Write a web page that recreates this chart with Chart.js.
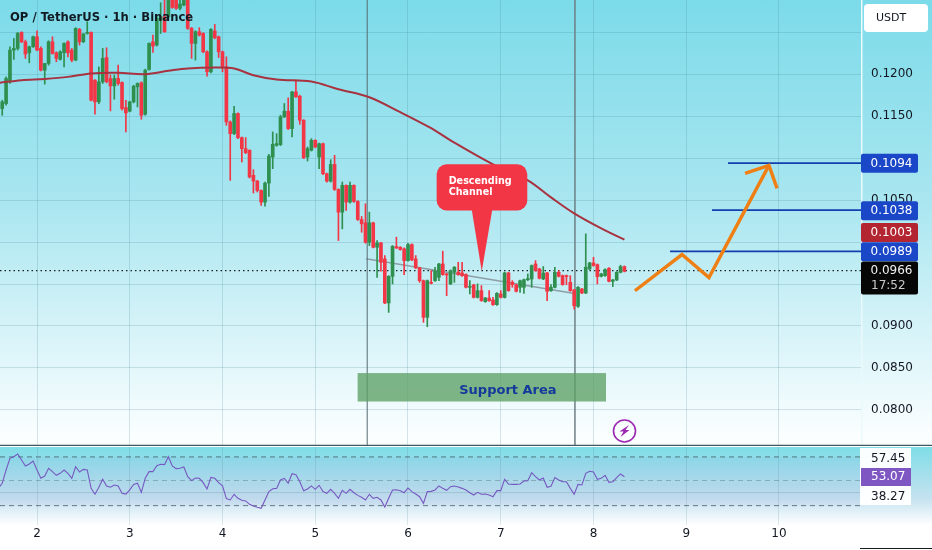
<!DOCTYPE html>
<html><head><meta charset="utf-8">
<script src="https://cdn.jsdelivr.net/npm/chart.js@4"></script>
<style>
html,body{margin:0;padding:0;width:932px;height:550px;background:#fff;overflow:hidden}
#p1{position:absolute;left:0;top:0;width:932px;height:446px;background:linear-gradient(#7cdbe9,#a9e6f0 45%,#fbfeff 98%)}
#p2{position:absolute;left:0;top:447px;width:932px;height:103px;background:linear-gradient(#7fdde7 0,#c5e2f0 50%,#ffffff 76%,#fff 100%)}
canvas{display:block}
</style></head><body>
<div id="p1"><canvas id="main" width="932" height="446"></canvas></div>
<div id="p2"><canvas id="rsi" width="932" height="103"></canvas></div>
<script>
const FONT='"DejaVu Sans"';
const title='OP / TetherUS · 1h · Binance';
const firstHour=-9;
const xTicks=[2,3,4,5,6,7,8,9,10];
const hiddenPriceLabels=['0.1250','0.1100','0.1000','0.0950'];
const opens=[.1159,.1165,.11909,.12287,.12307,.12498,.12386,.12255,.12327,.12446,.12307,.12048,.12128,.12386,.12255,.12176,.12255,.12386,.12287,.12168,.12534,.12386,.12486,.12498,.11929,.1167,.11909,.12199,.11949,.11861,.11949,.11901,.11602,.11559,.1167,.11849,.11897,.11523,.12056,.12386,.12347,.12645,.12685,.12685,.12924,.12904,.12785,.12824,.12944,.12546,.12367,.12506,.12486,.12267,.12028,.12514,.12446,.12267,.12088,.11431,.11292,.11531,.11244,.11113,.11093,.10795,.10727,.10615,.10476,.10703,.11013,.11153,.11161,.11491,.11559,.11352,.11789,.11738,.11451,.11013,
.11093,.11212,.11013,.11172,.10814,.10726,.10925,.10627,.10356,.10675,.10476,.10675,.10484,.10269,.10229,.09998,.10229,.09938,.0999,.09799,.09274,.09592,.09946,.09938,.09919,.09779,.0997,.09799,.09692,.0954,.09103,.0952,.0954,.0958,.09739,.0962,.09501,.0964,.0964,.09632,.09612,.09461,.09489,.09341,.09421,.0929,.09333,.0931,.09254,.09381,.09341,.09632,.0952,.09489,.09461,.09461,.09552,.0956,.09739,.0968,.0956,.09632,.09421,.09461,.0964,.096,.096,.0952,.09429,.09234,.09441,.09393,.0968,.09751,.09731,.09592,.096,.09688,.09532,.09548,.0964,.09708];
const closes=[.1167,.11949,.12287,.12307,.12486,.12386,.12239,.12327,.12446,.12287,.12048,.12128,.12386,.12247,.12188,.12267,.12367,.12255,.12168,.12546,.12386,.12478,.12498,.1169,.1167,.11909,.12188,.11909,.11861,.11949,.11889,.1159,.11539,.1167,.11857,.11889,.11511,.12048,.12367,.12335,.12665,.12685,.12506,.12924,.12796,.12785,.12836,.12944,.12546,.12367,.12506,.12466,.12267,.12028,.12534,.12434,.12267,.12088,.11431,.11292,.11531,.11244,.11113,.11065,.10775,.10727,.10615,.10476,.10703,.11025,.11165,.11173,.11491,.11559,.11352,.11789,.1173,.11451,.11005,.11113,
.11212,.11132,.11172,.10814,.10726,.10925,.10627,.10356,.10675,.10476,.10675,.10484,.10269,.10217,.09998,.10229,.09938,.0999,.09759,.09274,.09592,.0995,.0993,.09911,.09779,.0997,.09787,.09692,.0954,.09103,.0954,.09509,.09652,.09739,.09612,.09608,.0966,.097,.09612,.096,.09461,.09473,.09341,.09421,.09302,.09333,.09302,.09254,.09389,.09341,.09632,.09421,.09493,.09413,.0954,.09552,.09564,.0972,.0966,.09568,.09632,.09413,.09461,.0964,.09592,.09493,.09588,.09421,.09242,.09461,.09393,.097,.09751,.0972,.09588,.0962,.09672,.09532,.09548,.0964,.09708,.09652];
const highs=[.1169,.11969,.12327,.12426,.12498,.12506,.12406,.12335,.12454,.12518,.12327,.12128,.12398,.12446,.12267,.12279,.12375,.12398,.12307,.12554,.12546,.12486,.12625,.12506,.11937,.12088,.12307,.12315,.11989,.11989,.12108,.11909,.1169,.11678,.11869,.11897,.11909,.1206,.12375,.12466,.12705,.12852,.12904,.12964,.12964,.12944,.12904,.12984,.12984,.12558,.12518,.12554,.12494,.12279,.12542,.12593,.12454,.12275,.12207,.11443,.11618,.11539,.11252,.11244,.11101,.10862,.10735,.10623,.10715,.11045,.11312,.11292,.11511,.1165,.11718,.11797,.11929,.1175,.11459,.11133,
.11232,.1122,.1118,.1118,.10822,.10981,.11033,.10635,.10715,.10683,.10715,.10683,.10492,.10305,.10456,.10356,.10237,.10018,.09998,.09839,.096,.09958,.10058,.09946,.0993,.09986,.09978,.09839,.097,.09548,.09548,.0966,.097,.09747,.09891,.09628,.09668,.09708,.09759,.09759,.0962,.0954,.09497,.09501,.09481,.09341,.09421,.09341,.09397,.09421,.0964,.0964,.0954,.09497,.09548,.0956,.0962,.09727,.09779,.09688,.09708,.0964,.09493,.097,.0966,.09608,.09608,.096,.09437,.09469,.09449,.10098,.09759,.09819,.09739,.09628,.0968,.09696,.09556,.09648,.09724,.09716];
const lows=[.11511,.1163,.11889,.12176,.12287,.12375,.12188,.12136,.12319,.12279,.1204,.11881,.12108,.12239,.12148,.12168,.12088,.12207,.12148,.1216,.12347,.12375,.12478,.11682,.11523,.1165,.11889,.11897,.11563,.11702,.11869,.11571,.11312,.11551,.11658,.1161,.11463,.11511,.12048,.12259,.12335,.12486,.12498,.12677,.12785,.12773,.12765,.12812,.12534,.12188,.12168,.12454,.12255,.11977,.12016,.12422,.12199,.12028,.11391,.10735,.1128,.11232,.10954,.11053,.10763,.10584,.10596,.10436,.10428,.10544,.10874,.11141,.11149,.11483,.1134,.11252,.11722,.11403,.10994,.10966,
.11085,.11124,.10874,.10802,.10714,.10714,.10615,.10018,.10157,.10376,.10464,.10472,.10257,.10117,.09986,.09958,.0993,.0958,.09652,.09266,.09162,.09501,.09922,.09903,.09612,.09771,.09779,.09684,.0952,.09043,.08991,.09501,.09532,.0954,.09604,.09361,.09493,.0952,.09604,.09592,.09453,.09381,.09333,.09333,.09294,.09282,.09294,.09246,.09246,.09333,.09333,.09413,.09461,.09405,.09401,.09389,.0954,.09461,.09652,.0956,.09552,.09302,.09413,.09453,.09584,.09485,.09493,.09413,.09202,.09222,.09385,.09385,.09672,.09712,.09501,.09584,.09592,.09524,.09469,.0954,.09632,.09644];
const maHours=[-10,-4,2,8,14,21,28,34,39,46,51,56,62,71,78,86,94,102,107,118,127,133,139,146,152];
const maValues=[.11897,.11929,.11944,.11968,.12009,.12016,.12,.1204,.12069,.1208,.12069,.11988,.11937,.11913,.11821,.11726,.11547,.11356,.11212,.10926,.10735,.10532,.10341,.10162,.1003];
const rsiFirstHour=-10;
const rsiValues=[43.5,47.7,58.7,68.3,69.7,71.9,66.9,62.0,63.6,66.1,58.7,51.8,53.7,60.1,57.3,54.3,55.9,58.7,55.9,51.8,61.4,57.0,59.2,58.7,43.5,38.6,44.4,51.0,45.5,44.4,46.3,45.5,39.4,38.8,42.2,46.8,47.7,40.2,51.8,57.3,57.3,62.3,63.4,63.1,69.7,62.0,59.8,60.1,61.2,53.2,49.9,52.1,51.8,48.2,43.0,52.6,51.8,48.2,45.5,35.0,33.9,38.6,35.3,33.6,33.1,30.3,28.9,27.8,27.0,33.9,40.8,43.2,43.5,50.4,51.8,47.7,55.6,54.8,49.0,41.6,43.0,45.5,42.7,46.0,40.8,39.4,42.7,39.4,35.3,41.9,39.4,42.7,39.9,37.7,36.1,33.9,38.6,35.3,36.1,33.9,28.1,35.3,42.2,42.4,41.6,39.9,43.8,40.8,38.8,36.6,31.1,40.8,41.0,42.2,45.5,43.5,41.9,44.9,45.5,44.6,43.5,42.2,39.9,38.0,40.2,38.6,38.8,38.0,36.6,41.6,41.6,51.0,47.1,46.8,46.8,47.1,49.6,49.9,56.5,53.2,50.4,52.1,44.4,45.2,52.4,50.4,49.0,49.0,43.5,38.6,46.8,46.3,55.9,57.6,57.0,51.0,51.8,54.3,48.5,49.0,52.4,55.4,53.07];
const rsiBands=[69.5,50,29.2];
const rsiGrid=[40];
const rsiTags=['57.45','53.07','38.27'];
const lastPrice=0.0966, countdown='17:52', maLast=0.1003;
const targets=[0.1094,0.1038,0.0989];
const targetStarts=[9.45,9.278,8.825];
const arrowDays=[8.447,8.954,9.245,9.892];
const arrowPrices=[.0942,.09851,.09577,.10914];
const headDays=[9.634,9.892,9.979];
const headPrices=[.10818,.10914,.10639];
const trendDays=[5.547,7.779];
const trendPrices=[.098,.09389];
const sessionDays=[5.56,7.8];
const supportDays=[5.457,8.135];
const supportPrices=[.08439,.081];
const calloutDays=[6.309,7.286,6.687,6.909,6.795];
const calloutPrices=[.10926,.10377,.09652];
const Y_MIN=0.0757,Y_MAX=0.12884,X_MIN=1.601,X_MAX=10.895;

const day=h=>2+h/24;
const GREEN='#2f8f4e',RED='#f23645';
const bodyColors=opens.map((o,i)=>closes[i]>=o?GREEN:RED);
const seg=(xs,ys,extra)=>Object.assign({type:'line',data:xs.map((x,i)=>({x,y:ys[i]})),pointRadius:0,tension:0,fill:false},extra);
const fitW=s=>{s.width=70;s.paddingTop=0;s.paddingBottom=0;s.paddingLeft=0;s.paddingRight=0};
const fitH=h=>s=>{s.height=h;s.paddingTop=0;s.paddingBottom=0;s.paddingLeft=0;s.paddingRight=0};
const gridColor='rgba(60,125,145,.2)';

function rr(c,x,y,w,h,r){c.beginPath();c.roundRect(x,y,w,h,r);}
const overlay={id:'overlay',afterDatasetsDraw(ch){
  const c=ch.ctx,X=ch.scales.x,Y=ch.scales.y,px=v=>X.getPixelForValue(v),py=v=>Y.getPixelForValue(v);
  c.save();
  // support area
  const sx=px(supportDays[0]),sw=px(supportDays[1])-sx,sy=py(supportPrices[0]),sh=py(supportPrices[1])-sy;
  c.fillStyle='rgba(92,160,100,.78)';c.fillRect(sx,sy,sw,sh);
  c.font='600 13px '+FONT;c.fillStyle='#14399c';c.textBaseline='middle';c.textAlign='center';
  c.fillText('Support Area',sx+sw*0.605,sy+sh*0.62);
  // callout
  const a=px(calloutDays[0]),b=px(calloutDays[1]),t=py(calloutPrices[0]),u=py(calloutPrices[1]);
  c.fillStyle='#f23645';rr(c,a,t,b-a,u-t,10);c.fill();
  c.beginPath();c.moveTo(px(calloutDays[2]),u-1);c.lineTo(px(calloutDays[3]),u-1);c.lineTo(px(calloutDays[4]),py(calloutPrices[2]));c.closePath();c.fill();
  c.fillStyle='#fff';c.font='600 9.6px '+FONT;c.textAlign='left';
  c.fillText('Descending',a+12,t+17.5);c.fillText('Channel',a+12,t+28.5);
  // title
  c.fillStyle='#111a22';c.font='600 11.6px '+FONT;c.textAlign='left';c.fillText(title,10,18);
  // USDT
  c.fillStyle='#fff';rr(c,864,4,64,28,4);c.fill();
  c.fillStyle='#131722';c.font='11px '+FONT;c.textAlign='center';c.fillText('USDT',891,18.5);
  // price tags
  const tag=(v,col,shift)=>{const yy=py(v)+shift;c.fillStyle=col;rr(c,861,yy-9.5,57,19,2);c.fill();
    c.fillStyle='#fff';c.font='12px '+FONT;c.textAlign='left';c.fillText(v.toFixed(4),870.5,yy+0.5);};
  tag(maLast,'#b32530',-7);tag(targets[0],'#1a47c7',0);tag(targets[1],'#1a47c7',0.5);tag(targets[2],'#1a47c7',0.5);
  const ly=py(lastPrice);
  c.fillStyle='#060606';rr(c,861,ly-9,57,33,2);c.fill();
  c.fillStyle='#f2f2f2';c.font='12px '+FONT;c.textAlign='left';c.fillText(lastPrice.toFixed(4),870.5,ly+0.5);
  c.fillStyle='#c9c9c9';c.fillText(countdown,871,ly+15.5);
  // lightning icon
  c.strokeStyle='#9c27b0';c.lineWidth=1.6;c.beginPath();c.arc(624.5,431,11,0,Math.PI*2);c.stroke();
  c.fillStyle='#9c27b0';c.beginPath();c.moveTo(629,425);c.lineTo(619.5,431.5);c.lineTo(623.5,431.5);c.lineTo(620.5,437);c.lineTo(629.5,430);c.lineTo(625.5,430);c.closePath();c.fill();
  // separator
  c.strokeStyle='#3d5a5e';c.lineWidth=1.5;c.beginPath();c.moveTo(0,445.5);c.lineTo(932,445.5);c.stroke();
  c.restore();
}};

const hours=opens.map((_,i)=>firstHour+i);
new Chart(document.getElementById('main'),{type:'bar',plugins:[overlay],data:{datasets:[
  seg([X_MIN,X_MAX],[lastPrice,lastPrice],{borderColor:'#1a2228',borderWidth:1.2,borderDash:[1.5,3],order:9}),
  seg(trendDays,trendPrices,{borderColor:'#8d9ea5',borderWidth:1.5,order:8}),
  seg([sessionDays[0],sessionDays[0]],[Y_MIN,Y_MAX],{borderColor:'#566a70',borderWidth:1,order:7}),
  seg([sessionDays[1],sessionDays[1]],[Y_MIN,Y_MAX],{borderColor:'#6e7f85',borderWidth:1.5,order:7}),
  {type:'bar',data:hours.map((h,i)=>({x:day(h),y:[lows[i],highs[i]]})),backgroundColor:bodyColors,barThickness:1,grouped:false,order:6},
  {type:'bar',data:hours.map((h,i)=>({x:day(h),y:[opens[i],closes[i]]})),backgroundColor:bodyColors,barThickness:3,grouped:false,order:5},
  seg(maHours.map(day),maValues,{borderColor:'#a8323f',borderWidth:2,tension:.35,order:4}),
  ...targets.map((v,i)=>seg([targetStarts[i],X_MAX],[v,v],{borderColor:'#123fae',borderWidth:1.8,order:3})),
  seg(arrowDays,arrowPrices,{borderColor:'#f07f13',borderWidth:3.4,order:2}),
  seg(headDays,headPrices,{borderColor:'#f07f13',borderWidth:3.4,order:2})
]},options:{responsive:false,animation:false,devicePixelRatio:1,layout:{padding:0,autoPadding:false},
  plugins:{legend:{display:false},tooltip:{enabled:false}},
  scales:{
    x:{type:'linear',offset:false,min:X_MIN,max:X_MAX,grid:{offset:false,color:gridColor,drawTicks:false},border:{display:false},
       afterBuildTicks(s){s.ticks=xTicks.map(value=>({value}))},ticks:{display:false},afterFit:fitH(0)},
    y:{position:'right',min:Y_MIN,max:Y_MAX,afterFit:fitW,grid:{color:gridColor,drawTicks:false},border:{display:true,color:'#eaf9fb',width:1.5},
       ticks:{stepSize:.005,includeBounds:false,padding:9,align:'center',crossAlign:'near',color:'#131722',font:{family:FONT,size:12},
         callback:v=>hiddenPriceLabels.includes(v.toFixed(4))?'':v.toFixed(4)}}
  }}});

const rsiOverlay={id:'rsiOverlay',beforeDatasetsDraw(ch){
  const c=ch.ctx,X=ch.scales.x,Y=ch.scales.y,a=ch.chartArea;
  c.save();c.fillStyle='rgba(126,87,194,.05)';
  c.fillRect(a.left,Y.getPixelForValue(rsiBands[0]),a.right-a.left,Y.getPixelForValue(rsiBands[2])-Y.getPixelForValue(rsiBands[0]));
  c.restore();
},afterDatasetsDraw(ch){
  const c=ch.ctx;c.save();
  c.fillStyle='rgba(255,255,255,.96)';c.fillRect(860,1,51,57);
  c.fillStyle='#7e57c2';c.fillRect(861,21,50,18);
  c.textBaseline='middle';c.textAlign='left';c.font='12px '+FONT;
  c.fillStyle='#131722';c.fillText(rsiTags[0],871,12);c.fillText(rsiTags[2],871,49.5);
  c.fillStyle='#fff';c.fillText(rsiTags[1],871,30);
  c.strokeStyle='#1a1a1a';c.lineWidth=1;c.beginPath();c.moveTo(860,101.5);c.lineTo(932,101.5);c.stroke();
  c.restore();
}};
new Chart(document.getElementById('rsi'),{type:'line',plugins:[rsiOverlay],data:{datasets:[
  ...rsiBands.map((v,i)=>seg([X_MIN,X_MAX],[v,v],{borderColor:i==1?'rgba(90,115,125,.45)':'rgba(60,85,95,.75)',borderWidth:1,borderDash:[5,4],order:3})),
  ...rsiGrid.map(v=>seg([X_MIN,X_MAX],[v,v],{borderColor:'rgba(90,125,145,.25)',borderWidth:1,order:3})),
  seg(rsiValues.map((_,i)=>day(rsiFirstHour+i)),rsiValues,{borderColor:'#7658c0',borderWidth:1.1,order:1})
]},options:{responsive:false,animation:false,devicePixelRatio:1,layout:{padding:0,autoPadding:false},
  plugins:{legend:{display:false},tooltip:{enabled:false}},
  scales:{
    x:{type:'linear',min:X_MIN,max:X_MAX,grid:{offset:false,color:'rgba(90,130,150,.2)',drawTicks:false},border:{display:false},
       afterBuildTicks(s){s.ticks=xTicks.map(value=>({value}))},
       ticks:{padding:2,maxRotation:0,autoSkip:false,color:'#131722',font:{family:FONT,size:12},callback:v=>String(v)},afterFit:fitH(25)},
    y:{position:'right',min:13.2,max:77.7,afterFit:fitW,grid:{display:false},border:{display:false},ticks:{display:false}}
  }}});
</script>
</body></html>
